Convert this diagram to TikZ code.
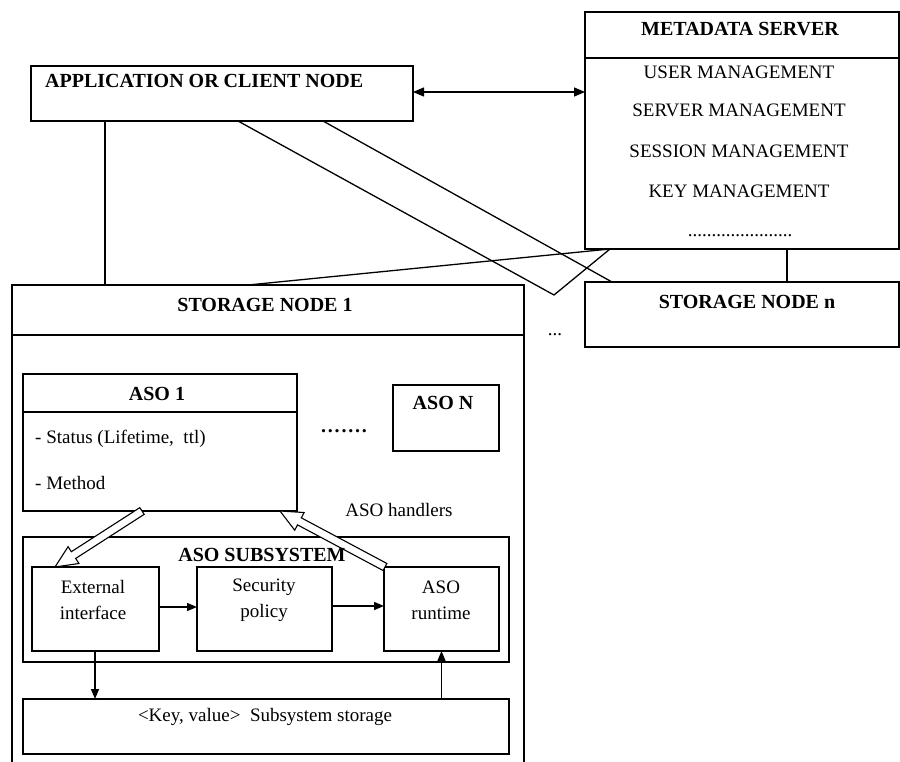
\documentclass[tikz,border=0pt]{standalone}
\usepackage{fontspec}
\setmainfont{Liberation Serif}
\usetikzlibrary{arrows.meta,calc}
\tikzset{
  box/.style={draw, line width=1.3pt, inner sep=0pt, outer sep=0pt, anchor=north west},
  ghost/.style={inner sep=0pt, outer sep=0pt, anchor=north west},
  lbl/.style={inner sep=0pt, font=\fontsize{19}{26}\selectfont, align=center},
  blbl/.style={inner sep=0pt, font=\fontsize{20}{24}\selectfont\bfseries},
  conn/.style={line width=1.3pt},
  arr/.style={line width=1.3pt, -{Triangle[length=10pt,width=8pt]}},
  darr/.style={line width=1.3pt, {Triangle[length=11pt,width=9pt]}-{Triangle[length=11pt,width=9pt]}},
  hol/.style={line width=1.1pt, fill=white, line join=miter}
}
\newcommand{\hollowarr}[2]{%
  \draw[hol] let \p1=($(#2)-(#1)$), \n1={atan2(\y1,\x1)}, \n2={veclen(\x1,\y1)} in
    [shift={(#1)}, rotate=\n1]
    (0,-4) -- (\n2-22,-4) -- (\n2-22,-10) -- (\n2,0) -- (\n2-22,10) -- (\n2-22,4) -- (0,4) -- cycle;}
\begin{document}
\begin{tikzpicture}[x=1pt,y=-1pt]
\useasboundingbox (0,0) rectangle (900,762);

% boxes
\node[box, minimum width=382, minimum height=55] (app) at (31,66) {};
\node[box, minimum width=314, minimum height=237] (meta) at (585,12) {};
\node[ghost, minimum width=512, minimum height=477] (sn1) at (12,285) {};
\node[box, minimum width=314, minimum height=65] (snn) at (585,282) {};
\node[box, minimum width=274, minimum height=137] (aso1) at (23,374) {};
\node[box, minimum width=106, minimum height=66] (ason) at (393,385) {};
\node[box, minimum width=486, minimum height=125] (sub) at (23,537) {};
\node[box, minimum width=127, minimum height=84] (ext) at (32,567) {};
\node[box, minimum width=135, minimum height=84] (sec) at (197,567) {};
\node[box, minimum width=115, minimum height=84] (run) at (384,567) {};
\node[box, minimum width=486, minimum height=55] (kv) at (23,699) {};

% storage node 1 (open at the bottom) and dividers
\draw[conn] (sn1.south west) |- (sn1.north east) -- (sn1.south east);
\draw[conn] ($(sn1.north west)+(0,50)$) -- ($(sn1.north east)+(0,50)$);
\draw[conn] ($(meta.north west)+(0,46)$) -- ($(meta.north east)+(0,46)$);
\draw[conn] ($(aso1.north west)+(0,38)$) -- ($(aso1.north east)+(0,38)$);

% connectors
\coordinate (a1) at ($(app.south west)+(74,0)$);
\coordinate (a2) at ($(app.south west)+(207,0)$);
\coordinate (a3) at ($(app.south west)+(292,0)$);
\coordinate (m1) at ($(meta.south west)+(25,0)$);
\coordinate (m2) at ($(meta.south west)+(202,0)$);
\coordinate (s1) at ($(sn1.north west)+(236,0)$);
\coordinate (sn) at ($(snn.north west)+(27,0)$);
\coordinate (vb) at (554,295);
\draw[darr] ($(app.east)+(0,-1.5)$) -- ($(app.east -| meta.west)+(0,-1.5)$);
\draw[conn] (a1) -- (a1 |- sn1.north);
\draw[conn] (a2) -- (vb) -- (m1);
\draw[conn] (s1) -- (m1);
\draw[conn] (a3) -- (sn);
\draw[conn] (m2) -- (m2 |- snn.north);

\draw[arr] ($(ext.east)+(0,-2)$) -- ($(sec.west)+(0,-2)$);
\draw[arr] ($(sec.east)+(0,-3)$) -- ($(run.west)+(0,-3)$);
\coordinate (e1) at ($(ext.south west)+(63,0)$);
\draw[arr] (e1) -- (e1 |- kv.north);
\draw[arr] (kv.north -| run.south) -- (run.south);

% hollow arrows
\coordinate (h1t) at ($(aso1.south west)+(119,0)$);
\coordinate (h1h) at ($(ext.north west)+(23,0)$);
\coordinate (h2t) at ($(run.north west)+(1,0)$);
\coordinate (h2h) at ($(aso1.south west)+(257,0)$);
\hollowarr{h1t}{h1h}
\hollowarr{h2t}{h2h}

% texts
\node[blbl, anchor=west] (tapp) at (45,81) {APPLICATION OR CLIENT NODE};
\node[blbl] (tmeta) at (740,29) {METADATA SERVER};
\node[lbl] (tm1) at (739,72) {USER MANAGEMENT};
\node[lbl] (tm2) at (739,110) {SERVER MANAGEMENT};
\node[lbl] (tm3) at (739,151) {SESSION MANAGEMENT};
\node[lbl] (tm4) at (739,191) {KEY MANAGEMENT};
\node[lbl, anchor=base] (tm5) at (740,237) {......................};
\node[blbl] (tsn1) at (265,305) {STORAGE NODE 1};
\node[blbl] (tsnn) at (747,302) {STORAGE NODE n};
\node[lbl, anchor=base] (tdots1) at (555,335) {...};
\node[blbl] (taso1) at (157,394) {ASO 1};
\node[lbl, anchor=west] (tst) at (35,439) {- Status (Lifetime,\ \ ttl)};
\node[lbl, anchor=west] (tme) at (35,483) {- Method};
\node[blbl, anchor=base] (tdots2) at (344,432) {.\kern1.8pt.\kern1.8pt.\kern1.8pt.\kern1.8pt.\kern1.8pt.\kern1.8pt.};
\node[blbl] (tason) at (443,403) {ASO N};
\node[lbl] (thand) at (399,510) {ASO handlers};
\node[blbl] (tsub) at (262,555) {ASO SUBSYSTEM};
\node[lbl] (text) at (93,600) {External\\interface};
\node[lbl] (tsec) at (264,600) {Security\\policy};
\node[lbl] (trun) at (441,600) {ASO\\runtime};
\node[lbl] (tkv) at (265,717) {<Key, value>\ \ Subsystem storage};
\end{tikzpicture}
\end{document}
